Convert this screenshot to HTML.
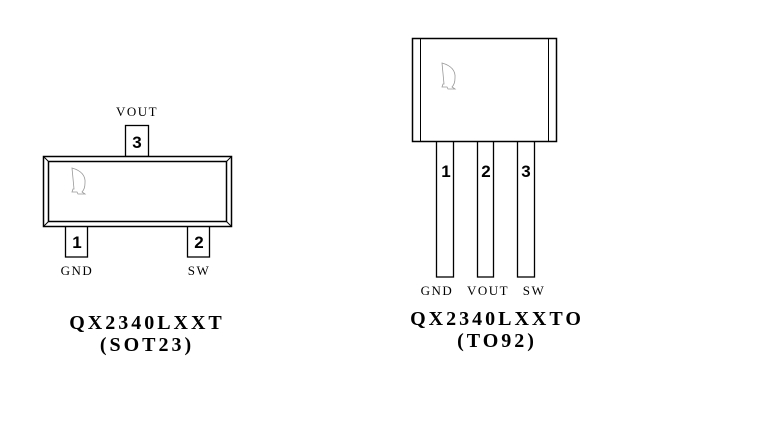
<!DOCTYPE html>
<html><head><style>
body{margin:0;background:#fff;width:758px;height:430px;overflow:hidden}
</style></head><body>
<svg width="758" height="430" xmlns="http://www.w3.org/2000/svg" font-family="Liberation Serif, serif">
<!-- SOT23 -->
<rect x="125.5" y="125.5" width="23" height="31" fill="#fff" stroke="#000" stroke-width="1.3"/>
<rect x="65.5" y="226" width="22" height="31" fill="#fff" stroke="#000" stroke-width="1.3"/>
<rect x="187.5" y="226" width="22" height="31" fill="#fff" stroke="#000" stroke-width="1.3"/>
<rect x="43.5" y="156.5" width="188" height="70" fill="#fff" stroke="#000" stroke-width="1.5"/>
<rect x="48.5" y="161.5" width="178" height="60" fill="none" stroke="#000" stroke-width="1.5"/>
<line x1="43.5" y1="156.5" x2="48.5" y2="161.5" stroke="#000"/>
<line x1="231.5" y1="156.5" x2="226.5" y2="161.5" stroke="#000"/>
<line x1="43.5" y1="226.5" x2="48.5" y2="221.5" stroke="#000"/>
<line x1="231.5" y1="226.5" x2="226.5" y2="221.5" stroke="#000"/>
<path d="M72 168 q14 4 13 15 q0 6 -3 9 l3 2 l-7 0 l-1 -2 l-5 0 l1 -3 l1 0 z" fill="none" stroke="#999" stroke-width="0.8"/>
<!-- TO92 -->
<rect x="436.5" y="141" width="17" height="136" fill="#fff" stroke="#000" stroke-width="1.3"/>
<rect x="477.5" y="141" width="16" height="136" fill="#fff" stroke="#000" stroke-width="1.3"/>
<rect x="517.5" y="141" width="17" height="136" fill="#fff" stroke="#000" stroke-width="1.3"/>
<rect x="412.5" y="38.5" width="144" height="103" fill="#fff" stroke="#000" stroke-width="1.5"/>
<line x1="420.5" y1="38.5" x2="420.5" y2="141.5" stroke="#000"/>
<line x1="548.5" y1="38.5" x2="548.5" y2="141.5" stroke="#000"/>
<path d="M442 63 q14 4 13 15 q0 6 -3 9 l3 2 l-7 0 l-1 -2 l-5 0 l1 -3 l1 0 z" fill="none" stroke="#999" stroke-width="0.8"/>
<g font-family="Liberation Sans, sans-serif" font-weight="bold" font-size="17" text-anchor="middle">
<text x="137" y="148">3</text><text x="77" y="248">1</text><text x="199" y="248">2</text>
<text x="446" y="177">1</text><text x="486" y="177">2</text><text x="526" y="177">3</text>
</g>
<g font-size="13" text-anchor="middle" letter-spacing="1.5">
<text x="137" y="116">VOUT</text><text x="77" y="275">GND</text><text x="199" y="275">SW</text>
<text x="437" y="295">GND</text><text x="488" y="295">VOUT</text><text x="534" y="295">SW</text>
</g>
<g font-size="20" font-weight="bold" text-anchor="middle" letter-spacing="3">
<text x="147" y="329">QX2340LXXT</text><text x="147" y="351">(SOT23)</text>
<text x="497" y="325">QX2340LXXTO</text><text x="497" y="347">(TO92)</text>
</g>
</svg>
</body></html>
